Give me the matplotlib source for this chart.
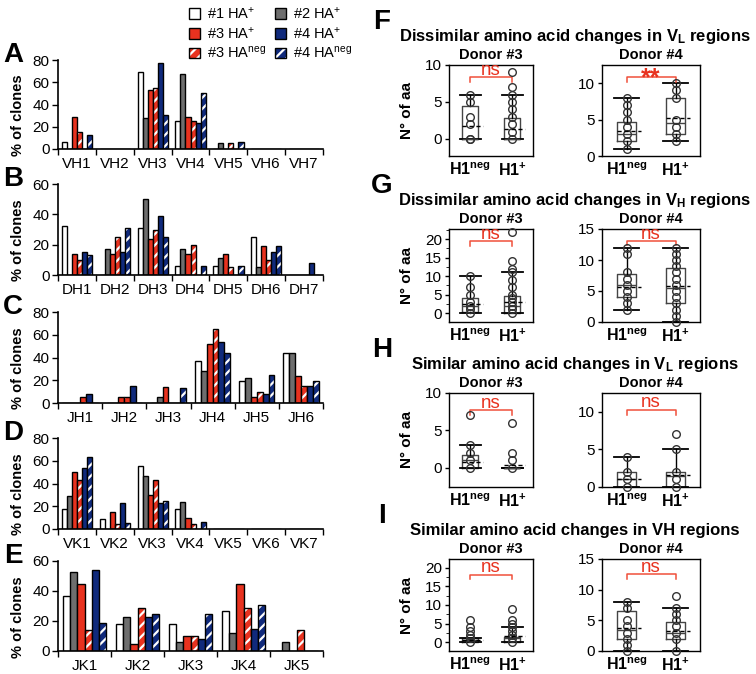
import numpy as np
import matplotlib
matplotlib.use("Agg")
import matplotlib.pyplot as plt
from matplotlib.patches import Patch
from matplotlib.ticker import AutoMinorLocator

plt.rcParams['font.family'] = ['Liberation Sans', 'DejaVu Sans']
plt.rcParams['mathtext.fontset'] = 'custom'
plt.rcParams['mathtext.rm'] = 'Liberation Sans'
plt.rcParams['mathtext.it'] = 'Liberation Sans:italic'
plt.rcParams['mathtext.bf'] = 'Liberation Sans:bold'
plt.rcParams['hatch.linewidth'] = 1.6

# ---- left column: % of clones per gene family ----
# series order inside a group: #1 HA+, #2 HA+, #3 HA+, #3 HAneg, #4 HA+, #4 HAneg
vh_genes = ["VH1", "VH2", "VH3", "VH4", "VH5", "VH6", "VH7"]
vh_1 = [6, 0, 69, 25, 0, 0, 0]
vh_2 = [0, 0, 28, 67, 5, 0, 0]
vh_3 = [29, 0, 53, 29, 0, 0, 0]
vh_3neg = [15, 0, 55, 25, 5, 0, 0]
vh_4 = [0, 0, 77, 23, 0, 0, 0]
vh_4neg = [13, 0, 31, 50, 6, 0, 0]

dh_genes = ["DH1", "DH2", "DH3", "DH4", "DH5", "DH6", "DH7"]
dh_1 = [32, 0, 31, 6, 6, 25, 0]
dh_2 = [0, 17, 50, 17, 11, 5, 0]
dh_3 = [14, 14, 24, 14, 14, 19, 0]
dh_3neg = [10, 25, 30, 20, 5, 10, 0]
dh_4 = [15, 15, 39, 0, 0, 15, 8]
dh_4neg = [13, 31, 25, 6, 6, 19, 0]

jh_genes = ["JH1", "JH2", "JH3", "JH4", "JH5", "JH6"]
jh_1 = [0, 0, 0, 37, 19, 44]
jh_2 = [0, 0, 5, 28, 22, 44]
jh_3 = [0, 5, 14, 52, 5, 24]
jh_3neg = [5, 5, 0, 65, 10, 15]
jh_4 = [8, 15, 0, 54, 8, 15]
jh_4neg = [0, 0, 13, 44, 25, 19]

vk_genes = ["VK1", "VK2", "VK3", "VK4", "VK5", "VK6", "VK7"]
vk_1 = [18, 9, 55, 18, 0, 0, 0]
vk_2 = [29, 0, 47, 24, 0, 0, 0]
vk_3 = [50, 15, 30, 10, 0, 0, 0]
vk_3neg = [43, 4, 43, 4, 0, 0, 0]
vk_4 = [54, 23, 23, 0, 0, 0, 0]
vk_4neg = [63, 5, 25, 6, 0, 0, 0]

jk_genes = ["JK1", "JK2", "JK3", "JK4", "JK5"]
jk_1 = [37, 18, 18, 27, 0]
jk_2 = [53, 23, 6, 12, 6]
jk_3 = [45, 5, 10, 45, 0]
jk_3neg = [14, 29, 10, 29, 14]
jk_4 = [54, 23, 8, 15, 0]
jk_4neg = [19, 25, 25, 31, 0]

# ---- right column: number of aa changes per clone ----
groups = ["H1$^{\\mathbf{neg}}$", "H1$^{\\mathbf{+}}$"]

f3_neg = [0, 0, 2, 3, 5, 6]
f3_pos = [0, 1, 2, 3, 4, 5, 6, 7, 9]
f4_neg = [1, 2, 3, 4, 5, 6, 7, 8]
f4_pos = [2, 3, 4, 5, 8, 9, 10]
g3_neg = [0, 1, 2, 3, 5, 7, 10]
g3_pos = [0, 1, 2, 3, 4, 5, 7, 9, 11, 12, 14, 22]
g4_neg = [2, 3, 4, 5, 6, 7, 8, 11, 12]
g4_pos = [0, 1, 2, 3, 4, 5, 6, 7, 8, 9, 10, 11, 12]
h3_neg = [0, 1, 2, 3, 7]
h3_pos = [0, 1, 2, 6]
h4_neg = [0, 1, 2, 4]
h4_pos = [0, 1, 2, 5, 7]
i3_neg = [0, 1, 2, 3, 4, 6]
i3_pos = [0, 1, 2, 3, 4, 5, 6, 9]
i4_neg = [0, 1, 2, 3, 4, 5, 7, 8]
i4_pos = [0, 2, 3, 4, 5, 6, 7, 9]

# box stats: q1, median, q3, whisker low, whisker high, mean
f3_box = [[0, 0, 4.5, 0, 6, 1.7], [0, 0, 2.8, 0, 6, 1.3]]
f4_box = [[2, 3, 4.7, 1, 8, 3.5], [3, 4.5, 8, 2, 10, 5.2]]
g3_box = [[0.3, 2, 4, 0, 10, 2.4], [0, 2, 4.7, 0, 11, 3.0]]
g4_box = [[4, 6, 7.7, 2, 12, 5.7], [3, 5.5, 8.7, 0, 12, 5.8]]
h3_box = [[0, 1, 1.7, 0, 3, 0.8], [0, 0, 0, 0, 0, 0.35]]
h4_box = [[0, 1, 2, 0, 4, 1.1], [0, 1.5, 2, 0, 5, 1.6]]
i3_box = [[0, 0.6, 1, 0, 1, 0.6], [0, 1, 1.5, 0, 4, 1.6]]
i4_box = [[2, 3.5, 6.5, 0, 8, 3.8], [2, 3, 4.7, 0, 7, 3.3]]

sig_f = ["ns", "**"]
sig_g = ["ns", "ns"]
sig_h = ["ns", "ns"]
sig_i = ["ns", "ns"]

RED = '#e8321f'
NAVY = '#102a7c'
GRAY = '#6e6e6e'
LRED = '#f0503a'

styles = [('white', False), (GRAY, False), (RED, False), (RED, True), (NAVY, False), (NAVY, True)]

W, H = 756, 674
fig = plt.figure(figsize=(W / 100, H / 100), dpi=100)


def px_axes(x0, x1, y0, y1):
    return fig.add_axes([x0 / W, 1 - y1 / H, (x1 - x0) / W, (y1 - y0) / H])


def bar_panel(ax, genes, vals, ymax, letter):
    x = np.arange(len(genes))
    w = 0.8 / 6
    for i, (v, (fc, hat)) in enumerate(zip(vals, styles)):
        xs = x - 0.4 + w * (i + 0.5)
        if hat:
            ax.bar(xs, v, w, color=fc, edgecolor='white', hatch='///', lw=0)
            ax.bar(xs, v, w, fill=False, edgecolor='black', lw=1)
        else:
            ax.bar(xs, v, w, color=fc, edgecolor='black', lw=1)
    ax.set_xlim(-0.5, len(genes) - 0.5)
    ax.set_ylim(0, ymax)
    ax.set_yticks(np.arange(0, ymax + 1, 20))
    ax.set_xticks(x)
    ax.set_xticklabels(genes, fontsize=11)
    ax.set_xticks(np.arange(-0.5, len(genes)), minor=True)
    ax.tick_params(axis='x', which='major', length=0, pad=6)
    ax.tick_params(axis='x', which='minor', length=4, width=1)
    ax.tick_params(axis='y', labelsize=11, length=4, width=1, pad=2)
    for s in ['top', 'right']:
        ax.spines[s].set_visible(False)
    for s in ['left', 'bottom']:
        ax.spines[s].set_linewidth(1.2)
    ax.set_ylabel("% of clones", fontsize=10.5, fontweight='bold')
    ax.yaxis.set_label_coords(-0.125, 0.38)
    ax.text(-0.17, 1.06, letter, transform=ax.transAxes, fontsize=20,
            fontweight='bold', ha='center', va='center')


axA = px_axes(58, 323, 60, 149)
bar_panel(axA, vh_genes, [vh_1, vh_2, vh_3, vh_3neg, vh_4, vh_4neg], 80, "A")
axB = px_axes(58, 323, 184, 275)
bar_panel(axB, dh_genes, [dh_1, dh_2, dh_3, dh_3neg, dh_4, dh_4neg], 60, "B")
axC = px_axes(58, 323, 312, 403)
bar_panel(axC, jh_genes, [jh_1, jh_2, jh_3, jh_3neg, jh_4, jh_4neg], 80, "C")
axD = px_axes(58, 323, 438, 529)
bar_panel(axD, vk_genes, [vk_1, vk_2, vk_3, vk_3neg, vk_4, vk_4neg], 80, "D")
axE = px_axes(58, 323, 561, 651)
bar_panel(axE, jk_genes, [jk_1, jk_2, jk_3, jk_3neg, jk_4, jk_4neg], 60, "E")

# legend
def handle(fc, hat):
    if hat:
        return (Patch(facecolor=fc, edgecolor='white', hatch='///', lw=0),
                Patch(facecolor='none', edgecolor='black', lw=1))
    return Patch(facecolor=fc, edgecolor='black', lw=1)

leg_labels = ["#1 HA$^{+}$", "#3 HA$^{+}$", "#3 HA$^{\\mathrm{neg}}$",
              "#2 HA$^{+}$", "#4 HA$^{+}$", "#4 HA$^{\\mathrm{neg}}$"]
leg_handles = [handle('white', False), handle(RED, False), handle(RED, True),
               handle(GRAY, False), handle(NAVY, False), handle(NAVY, True)]
fig.legend(leg_handles, leg_labels, ncol=2, loc='upper left',
           bbox_to_anchor=(180 / W, 1 + 3 / H), frameon=False, fontsize=10.5,
           handlelength=0.75, handleheight=0.75, handletextpad=0.5,
           labelspacing=0.25, columnspacing=0.6, borderpad=0.1)


# ---- right column ----
def box_panel(ax, pts, box, ylim, yticks, sig, bracket, donor, minor=False):
    stats = []
    for b in box:
        stats.append(dict(q1=b[0], med=b[1], q3=b[2], whislo=b[3], whishi=b[4], fliers=[]))
    ax.bxp(stats, positions=[1, 2], widths=0.4, showfliers=False, capwidths=0.5,
           boxprops=dict(color='#444444', lw=1),
           medianprops=dict(color='#444444', lw=1),
           whiskerprops=dict(color='black', lw=1),
           capprops=dict(color='black', lw=1.3))
    for p, vals, b in zip([1, 2], pts, box):
        ax.plot([p] * len(vals), vals, 'o', mfc='none', mec='#333333', mew=1,
                ms=5.5, clip_on=False, zorder=4)
        ax.hlines(b[5], p - 0.2, p + 0.3, colors='black', linestyles=(0, (3, 2)),
                  lw=1, zorder=5)
    y0, y1 = bracket
    ax.plot([1, 1, 2, 2], [y0, y1, y1, y0], color=LRED, lw=1.1, clip_on=False)
    if sig == "**":
        ax.annotate(sig, (1.5, y1), xytext=(0, -6), textcoords='offset points',
                    color=RED, fontsize=18, fontweight='bold', ha='center', va='baseline')
    else:
        ax.annotate(sig, (1.5, y1), xytext=(0, 1.5), textcoords='offset points',
                    color=RED, fontsize=13.5, ha='center', va='baseline')
    ax.set_xlim(0.5, 2.5)
    ax.set_ylim(*ylim)
    ax.set_yticks(yticks)
    ax.set_xticks([1, 2])
    ax.set_xticklabels(groups, fontsize=11.5, fontweight='bold')
    ax.tick_params(axis='x', length=0, pad=4)
    ax.tick_params(axis='y', labelsize=11, length=3, width=1, pad=2)
    if minor:
        ax.yaxis.set_minor_locator(AutoMinorLocator(2))
        ax.tick_params(axis='y', which='minor', length=2)
    for s in ax.spines.values():
        s.set_linewidth(1)
    ax.set_title(donor, fontsize=10.5, fontweight='bold', pad=4)


def row(y0, y1, data3, data4, box3, box4, lim3, lim4, tk3, tk4, sigs, br3, br4,
        title, letter, minor3=False):
    a3 = px_axes(449, 533, y0, y1)
    box_panel(a3, data3, box3, lim3, tk3, sigs[0], br3, "Donor #3", minor3)
    a3.set_ylabel("N° of aa", fontsize=11, fontweight='bold')
    a3.yaxis.set_label_coords(-0.42, 0.5)
    a4 = px_axes(602, 700, y0, y1)
    box_panel(a4, data4, box4, lim4, tk4, sigs[1], br4, "Donor #4")
    fig.text(575 / W, 1 - (y0 - 28) / H, title, fontsize=12, fontweight='bold',
             ha='center', va='center')
    fig.text(382 / W, 1 - (y0 - 43) / H, letter, fontsize=20, fontweight='bold',
             ha='center', va='center')


row(65, 156, [f3_neg, f3_pos], [f4_neg, f4_pos], f3_box, f4_box,
    (-2.3, 10), (0, 12.5), [0, 5, 10], [0, 5, 10], sig_f,
    (7.7, 8.4), (10.2, 10.9),
    "Dissimilar amino acid changes in V$_{\\mathbf{L}}$ regions", "F")
row(229, 322, [g3_neg, g3_pos], [g4_neg, g4_pos], g3_box, g4_box,
    (-2.4, 22.7), (0, 15), [0, 5, 10, 15, 20], [0, 5, 10, 15], sig_g,
    (18.2, 19.4), (12.4, 13.1),
    "Dissimilar amino acid changes in V$_{\\mathbf{H}}$ regions", "G", True)
row(393, 487, [h3_neg, h3_pos], [h4_neg, h4_pos], h3_box, h4_box,
    (-2.6, 10), (0, 12.5), [0, 5, 10], [0, 5, 10], sig_h,
    (7.1, 7.7), (9.6, 10.3),
    "Similar amino acid changes in V$_{\\mathbf{L}}$ regions", "H")
row(559, 651, [i3_neg, i3_pos], [i4_neg, i4_pos], i3_box, i4_box,
    (-2.4, 22.4), (0, 15), [0, 5, 10, 15, 20], [0, 5, 10, 15], sig_i,
    (17, 18.2), (11.7, 12.6),
    "Similar amino acid changes in VH regions", "I", True)

fig.savefig("out.png", dpi=100)
